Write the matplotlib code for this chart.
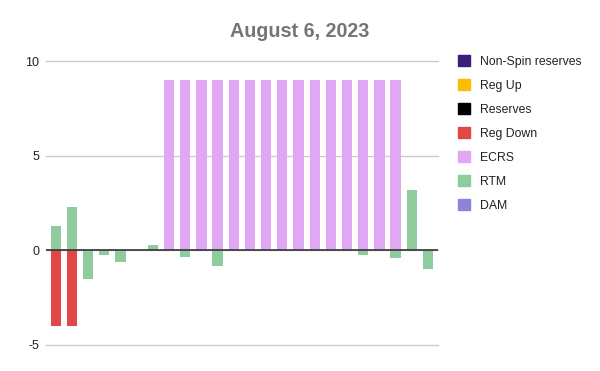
import matplotlib
matplotlib.use("Agg")
import matplotlib.pyplot as plt
from matplotlib.patches import Rectangle
import numpy as np

plt.rcParams['font.family'] = ['Liberation Sans', 'DejaVu Sans']

hours = list(range(1, 25))
series_names = ["DAM", "RTM", "ECRS", "Reg Down", "Reserves", "Reg Up", "Non-Spin reserves"]
dam = [0]*24
rtm = [1.3, 2.3, -1.5, -0.25, -0.6, 0, 0.3, 0, -0.35, 0, -0.83, 0,
       0, 0, 0, 0, 0, 0, 0, -0.22, 0, -0.4, 3.2, -1.0]
ecrs = [0, 0, 0, 0, 0, 0, 0, 9, 9, 9, 9, 9,
        9, 9, 9, 9, 9, 9, 9, 9, 9, 9, 0, 0]
reg_down = [-4, -4] + [0]*22
reserves = [0]*24
reg_up = [0]*24
non_spin = [0]*24
colors = {"DAM": "#8a85db", "RTM": "#8ecb9f", "ECRS": "#e0a8f3", "Reg Down": "#e04848",
          "Reserves": "#000000", "Reg Up": "#fbbc04", "Non-Spin reserves": "#3a1f78"}
data = {"DAM": dam, "RTM": rtm, "ECRS": ecrs, "Reg Down": reg_down,
        "Reserves": reserves, "Reg Up": reg_up, "Non-Spin reserves": non_spin}

fig = plt.figure(figsize=(6, 3.71), dpi=100)
ax = fig.add_axes([0.0762, 0.0701, 0.6538, 0.7647])
x = np.arange(len(hours))
pos_bottom = np.zeros(24)
neg_bottom = np.zeros(24)
for name in series_names:
    v = np.array(data[name], dtype=float)
    pos = np.where(v > 0, v, 0)
    neg = np.where(v < 0, v, 0)
    ax.bar(x, pos, bottom=pos_bottom, width=0.64, color=colors[name], zorder=2)
    ax.bar(x, neg, bottom=neg_bottom, width=0.64, color=colors[name], zorder=2)
    pos_bottom += pos
    neg_bottom += neg

ax.set_xlim(-0.62, 23.62)
ax.set_ylim(-5, 10)
ax.set_yticks([-5, 0, 5, 10])
ax.set_yticklabels(["-5", "0", "5", "10"])
ax.set_xticks([])
for s in ax.spines.values():
    s.set_visible(False)
ax.grid(axis='y', color='#cccccc', linewidth=1, zorder=0)
for gl in ax.get_ygridlines():
    gl.set_clip_on(False)
ax.axhline(0, color='#333333', linewidth=1.2, zorder=3)
ax.tick_params(axis='y', length=0, pad=4.5, labelsize=9, labelcolor='#222222')

fig.text(0.5, 0.916, "August 6, 2023", ha='center', va='center', fontsize=14.2,
         fontweight='bold', color='#757575')

legend_order = ["Non-Spin reserves", "Reg Up", "Reserves", "Reg Down", "ECRS", "RTM", "DAM"]
handles = [Rectangle((0, 0), 1, 1, color=colors[n]) for n in legend_order]
fig.legend(handles, legend_order, loc='upper left', bbox_to_anchor=(0.763, 0.851),
           frameon=False, fontsize=8.8, handlelength=1.0, handleheight=1.0,
           handletextpad=0.8, labelspacing=0.93, borderaxespad=0, borderpad=0,
           labelcolor='#222222')

fig.savefig("out.png", dpi=100)
